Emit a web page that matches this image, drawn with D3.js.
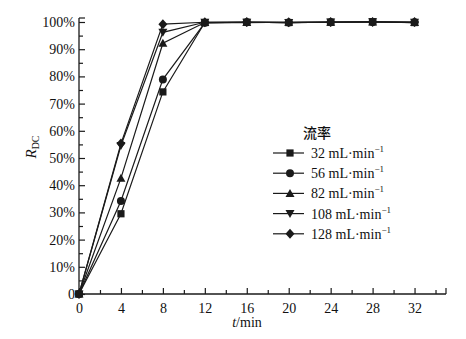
<!DOCTYPE html>
<html><head><meta charset="utf-8">
<script src="https://cdn.jsdelivr.net/npm/d3@7"></script>
<style>body{margin:0;background:#fff}svg{display:block}svg text{font-family:"Liberation Serif","Times New Roman",serif !important;fill:#111}svg text.cjk{font-family:"Noto Sans CJK SC",sans-serif !important}</style>
</head><body><svg id="c" width="466" height="339"></svg>
<script>
const times = [0, 4, 8, 12, 16, 20, 24, 28, 32];
const seriesNames = ["32", "56", "82", "108", "128"];
const s32  = [0, 29.5, 74.3, 99.8, 99.9, 99.8, 99.9, 100.1, 99.8];
const s56  = [0, 34.2, 78.9, 99.7, 99.9, 99.8, 99.9, 100.0, 99.9];
const s82  = [0, 42.6, 92.2, 99.8, 99.8, 99.9, 99.9, 100.0, 99.8];
const s108 = [0, 54.6, 96.2, 99.9, 99.9, 99.8, 100.0, 100.1, 99.9];
const s128 = [0, 55.3, 99.2, 99.9, 100.0, 99.9, 100.0, 100.0, 100.0];
const xTicks = [0, 4, 8, 12, 16, 20, 24, 28, 32];
const yTicks = [0, 10, 20, 30, 40, 50, 60, 70, 80, 90, 100];
const allSeries = [s32, s56, s82, s108, s128];
const symbols = ["square", "circle", "triangle", "down", "diamond"];

const svg = d3.select("#c");
const x = d3.scaleLinear().domain([0, 35]).range([79, 446]);
const y = d3.scaleLinear().domain([0, 100]).range([294, 22]);
const col = "#1a1a1a";

const xa = d3.axisBottom(x).tickValues(d3.range(0, 35, 2)).tickSize(-5).tickFormat(d => xTicks.includes(d) ? d : "");
const gx = svg.append("g").attr("transform", "translate(0,294)").call(xa).attr("font-family", null);
gx.select(".domain").attr("d", `M79,0H446`).attr("stroke", col).attr("stroke-width", 1.3);
gx.selectAll(".tick line").attr("stroke", col).attr("stroke-width", 1.2).attr("y2", function(d){return xTicks.includes(d) ? -6 : -4;});
gx.selectAll(".tick text").attr("y", 9).attr("font-size", 14);
svg.append("line").attr("x1", 446).attr("x2", 446).attr("y1", 294).attr("y2", 288).attr("stroke", col).attr("stroke-width", 1.2);

const ya = d3.axisLeft(y).tickValues(d3.range(0, 101, 5)).tickSize(-5).tickFormat(d => yTicks.includes(d) ? (d === 0 ? "0" : d + "%") : "");
const gy = svg.append("g").attr("transform", "translate(79,0)").call(ya).attr("font-family", null);
gy.select(".domain").attr("d", `M0,294V18`).attr("stroke", col).attr("stroke-width", 1.3);
gy.selectAll(".tick line").attr("stroke", col).attr("stroke-width", 1.2).attr("x2", function(d){return yTicks.includes(d) ? 6 : 4;});
gy.selectAll(".tick text").attr("x", -4).attr("font-size", 14);
svg.append("line").attr("x1", 79).attr("x2", 85).attr("y1", 18).attr("y2", 18).attr("stroke", col).attr("stroke-width", 1.2);

const yl = svg.append("text").attr("transform", "translate(36,147) rotate(-90)").attr("text-anchor", "middle").attr("font-size", 15);
yl.append("tspan").attr("font-style", "italic").text("R");
yl.append("tspan").attr("font-size", 10).attr("dy", 3).text("DC");
const xl = svg.append("text").attr("x", 247).attr("y", 327).attr("text-anchor", "middle").attr("font-size", 14);
xl.append("tspan").attr("font-style", "italic").text("t");
xl.append("tspan").text("/min");

function drawMarker(g, type, cx, cy) {
  const s = 3.6;
  if (type === "square") g.append("rect").attr("x", cx - s).attr("y", cy - s).attr("width", 2*s).attr("height", 2*s).attr("fill", col);
  else if (type === "circle") g.append("circle").attr("cx", cx).attr("cy", cy).attr("r", 4).attr("fill", col);
  else if (type === "triangle") g.append("path").attr("d", `M${cx},${cy-4.5}L${cx+4.5},${cy+3.5}L${cx-4.5},${cy+3.5}Z`).attr("fill", col);
  else if (type === "down") g.append("path").attr("d", `M${cx},${cy+4.5}L${cx+4.5},${cy-3.5}L${cx-4.5},${cy-3.5}Z`).attr("fill", col);
  else if (type === "diamond") g.append("path").attr("d", `M${cx},${cy-5}L${cx+4.5},${cy}L${cx},${cy+5}L${cx-4.5},${cy}Z`).attr("fill", col);
}

const line = d3.line().x((d, i) => x(times[i])).y(d => y(d));
allSeries.forEach((vals, k) => {
  const g = svg.append("g");
  g.append("path").attr("d", line(vals)).attr("fill", "none").attr("stroke", col).attr("stroke-width", 1.2);
  vals.forEach((v, i) => drawMarker(g, symbols[k], x(times[i]), y(v)));
});

const lg = svg.append("g");
lg.append("text").attr("class", "cjk").attr("x", 303).attr("y", 138).attr("font-size", 14).attr("font-weight", 500).text("流率");
seriesNames.forEach((n, k) => {
  const yy = 153 + k * 20.2;
  lg.append("line").attr("x1", 273).attr("x2", 304).attr("y1", yy).attr("y2", yy).attr("stroke", col).attr("stroke-width", 1.2);
  drawMarker(lg, symbols[k], 290, yy);
  const t = lg.append("text").attr("x", 311).attr("y", yy + 5).attr("font-size", 14);
  t.append("tspan").text(n + " mL·min");
  t.append("tspan").attr("font-size", 9).attr("dy", -6).text("−1");
});
</script></body></html>
